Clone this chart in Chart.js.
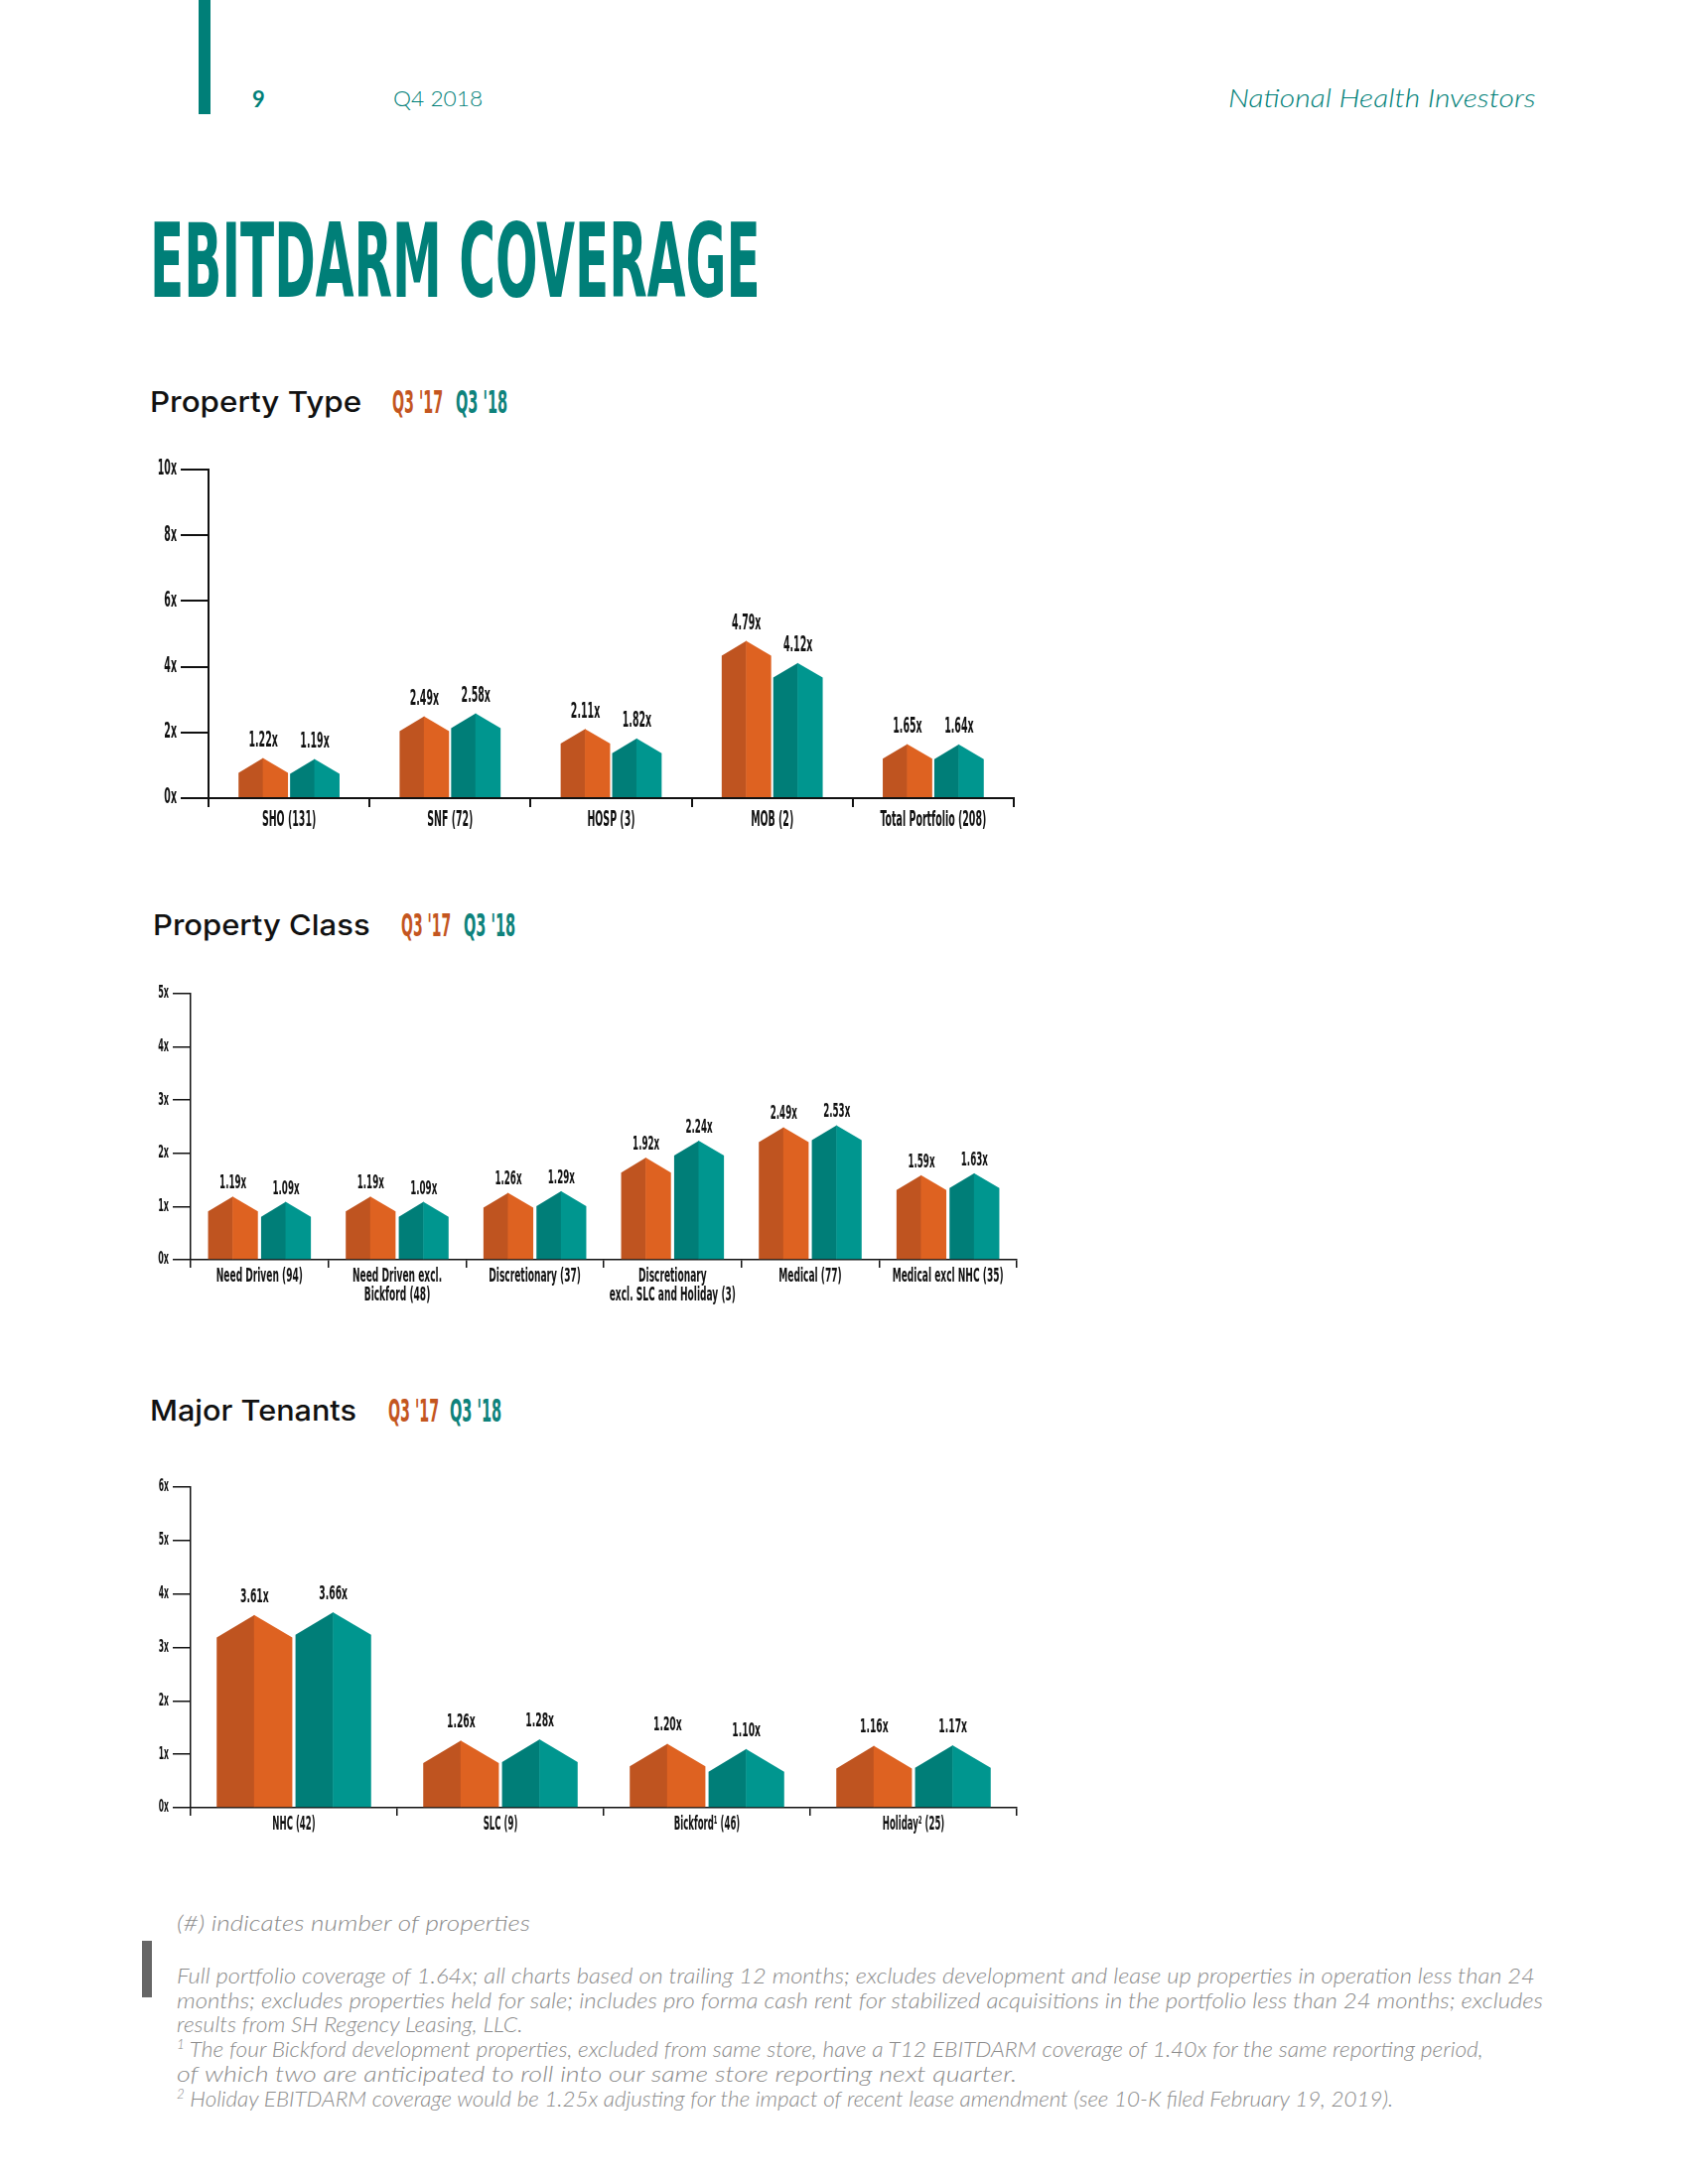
<!DOCTYPE html>
<html>
<head>
<meta charset="utf-8">
<script src="https://cdn.jsdelivr.net/npm/chart.js@4.4.1/dist/chart.umd.min.js"></script>
<style>
  body { margin: 0; width: 1700px; height: 2200px; background: #fff; position: relative; overflow: hidden; }
  .t { position: absolute; white-space: nowrap; transform-origin: left center; }
  .cond { font-family: 'DejaVu Sans Condensed', 'Liberation Sans Narrow', sans-serif; font-weight: bold; }
  .head { font-family: Inter, 'Noto Sans', sans-serif; font-weight: 500; font-size: 29px; color: #111; }
  .note { font-family: Lato, 'Open Sans', sans-serif; font-style: italic; font-weight: 300; font-size: 22px; color: #8a8a8a; }
  canvas { position: absolute; }
</style>
</head>
<body>
<div style="position:absolute;left:200px;top:0;width:12px;height:115px;background:#007f78"></div>
<div class="t" id="pg" style="font-family:Lato,sans-serif;font-weight:700;font-size:22px;color:#007f78">9</div>
<div class="t" id="qt" style="font-family:Lato,sans-serif;font-weight:300;font-size:22px;color:#007f78">Q4 2018</div>
<div class="t" id="co" style="font-family:Lato,sans-serif;font-style:italic;font-weight:300;font-size:25px;color:#007f78">National Health Investors</div>
<div class="t cond" id="title" style="font-size:103px;color:#007f78">EBITDARM COVERAGE</div>

<div class="t head" id="h1">Property Type</div>
<div class="t cond" id="l1a" style="font-size:32px;color:#c4561f">Q3 '17</div>
<div class="t cond" id="l1b" style="font-size:32px;color:#0e827b">Q3 '18</div>
<canvas id="typeChart" style="left:140px;top:440px"></canvas>

<div class="t head" id="h2">Property Class</div>
<div class="t cond" id="l2a" style="font-size:32px;color:#c4561f">Q3 '17</div>
<div class="t cond" id="l2b" style="font-size:32px;color:#0e827b">Q3 '18</div>
<canvas id="classChart" style="left:130px;top:970px"></canvas>

<div class="t head" id="h3">Major Tenants</div>
<div class="t cond" id="l3a" style="font-size:32px;color:#c4561f">Q3 '17</div>
<div class="t cond" id="l3b" style="font-size:32px;color:#0e827b">Q3 '18</div>
<canvas id="tenantChart" style="left:130px;top:1460px"></canvas>

<div style="position:absolute;left:143px;top:1955px;width:10px;height:57px;background:#666"></div>
<div class="t note" id="n0">(#) indicates number of properties</div>
<div class="t note" id="n1">Full portfolio coverage of 1.64x; all charts based on trailing 12 months; excludes development and lease up properties in operation less than 24</div>
<div class="t note" id="n2">months; excludes properties held for sale; includes pro forma cash rent for stabilized acquisitions in the portfolio less than 24 months; excludes</div>
<div class="t note" id="n3">results from SH Regency Leasing, LLC.</div>
<div class="t note" id="n4"><sup style="font-size:13px">1</sup> The four Bickford development properties, excluded from same store, have a T12 EBITDARM coverage of 1.40x for the same reporting period,</div>
<div class="t note" id="n5">of which two are anticipated to roll into our same store reporting next quarter.</div>
<div class="t note" id="n6"><sup style="font-size:13px">2</sup> Holiday EBITDARM coverage would be 1.25x adjusting for the impact of recent lease amendment (see 10-K filed February 19, 2019).</div>

<script>
// series names and colours
const seriesNames = ["Q3 '17", "Q3 '18"];

// Property Type
const typeLabels = ["SHO (131)", "SNF (72)", "HOSP (3)", "MOB (2)", "Total Portfolio (208)"];
const typeQ317 = [1.22, 2.49, 2.11, 4.79, 1.65];
const typeQ318 = [1.19, 2.58, 1.82, 4.12, 1.64];

// Property Class
const classLabels = [["Need Driven (94)"], ["Need Driven excl.", "Bickford (48)"], ["Discretionary (37)"],
    ["Discretionary", "excl. SLC and Holiday (3)"], ["Medical (77)"], ["Medical excl NHC (35)"]];
const classQ317 = [1.19, 1.19, 1.26, 1.92, 2.49, 1.59];
const classQ318 = [1.09, 1.09, 1.29, 2.24, 2.53, 1.63];

// Major Tenants
const tenantLabels = ["NHC (42)", "SLC (9)", "Bickford\u00b9 (46)", "Holiday\u00b2 (25)"];
const tenantQ317 = [3.61, 1.26, 1.20, 1.16];
const tenantQ318 = [3.66, 1.28, 1.10, 1.17];

const COND = "'DejaVu Sans Condensed', 'Liberation Sans Narrow', sans-serif";

function place(id, left, baseline, width, rightAlign) {
    const el = document.getElementById(id);
    el.style.left = "0px";
    el.style.top = "0px";
    const m = document.createElement("span");
    m.style.cssText = "display:inline-block;width:0;height:0;vertical-align:baseline";
    el.appendChild(m);
    const b = m.offsetTop;
    el.removeChild(m);
    let w = el.offsetWidth;
    if (width) {
        el.style.transform = "scaleX(" + (width / w) + ")";
        w = width;
    }
    el.style.left = (rightAlign ? left - w : left) + "px";
    el.style.top = (baseline - b) + "px";
}

function condText(ctx, text, x, y, size, sx, align, maxW) {
    ctx.save();
    ctx.font = "bold " + size + "px " + COND;
    ctx.fillStyle = "#111";
    ctx.textBaseline = "middle";
    ctx.textAlign = align;
    let s = sx;
    if (maxW) {
        const w = ctx.measureText(text).width;
        if (w * s > maxW) s = maxW / w;
    }
    ctx.translate(x, y);
    ctx.scale(s, 1);
    ctx.fillText(text, 0, 0);
    ctx.restore();
}

// house shaped bars, value labels and condensed tick labels
const houseBars = {
    id: "houseBars",
    afterDatasetsDraw(chart, args, o) {
        const ctx = chart.ctx;
        chart.data.datasets.forEach((ds, di) => {
            chart.getDatasetMeta(di).data.forEach((bar, i) => {
                const p = bar.getProps(["x", "y", "base", "width"], true);
                const h = p.width / 2;
                const sh = Math.min(p.y + h * 0.6, p.base);
                ctx.fillStyle = ds.dark;
                ctx.beginPath();
                ctx.moveTo(p.x - h, p.base);
                ctx.lineTo(p.x - h, sh);
                ctx.lineTo(p.x, p.y);
                ctx.lineTo(p.x, p.base);
                ctx.closePath();
                ctx.fill();
                ctx.fillStyle = ds.light;
                ctx.beginPath();
                ctx.moveTo(p.x - 0.5, p.base);
                ctx.lineTo(p.x - 0.5, p.y);
                ctx.lineTo(p.x + h, sh);
                ctx.lineTo(p.x + h, p.base);
                ctx.closePath();
                ctx.fill();
                condText(ctx, ds.data[i].toFixed(2) + "x", p.x, p.y - o.valueGap, o.valueSize, o.vsx, "center");
            });
        });
    },
    afterDraw(chart, args, o) {
        const ctx = chart.ctx;
        const xs = chart.scales.x, ys = chart.scales.y;
        ys.ticks.forEach((t, i) => {
            condText(ctx, t.value + "x", ys.right - o.yTick - 4, ys.getPixelForTick(i), o.ySize, o.sx, "right");
        });
        const catW = xs.width / chart.data.labels.length;
        chart.data.labels.forEach((l, i) => {
            const lines = Array.isArray(l) ? l : [l];
            lines.forEach((s, j) => {
                condText(ctx, s, xs.getPixelForTick(i), xs.top + o.xFirst + j * o.lineGap,
                    o.xSize, o.sx, "center", catW - 10);
            });
        });
    }
};

function makeChart(id, w, h, labels, a, b, c) {
    const el = document.getElementById(id);
    el.width = w;
    el.height = h;
    return new Chart(el.getContext("2d"), {
        type: "bar",
        data: {
            labels: labels,
            datasets: [
                { label: seriesNames[0], data: a, backgroundColor: "rgba(0,0,0,0)", dark: "#bf5420", light: "#de6221",
                  categoryPercentage: c.cat, barPercentage: c.bar },
                { label: seriesNames[1], data: b, backgroundColor: "rgba(0,0,0,0)", dark: "#007e78", light: "#00968f",
                  categoryPercentage: c.cat, barPercentage: c.bar }
            ]
        },
        options: {
            responsive: false,
            animation: false,
            layout: { padding: { top: c.top, right: c.right, left: 0, bottom: 0 } },
            plugins: {
                legend: { display: false },
                tooltip: { enabled: false },
                houseBars: c.txt
            },
            scales: {
                x: {
                    afterFit: s => { s.height = c.xH; },
                    ticks: { display: false },
                    grid: { offset: true, drawOnChartArea: false, tickLength: c.xTick, color: "#111", lineWidth: c.lw },
                    border: { color: "#111", width: c.lw }
                },
                y: {
                    min: 0,
                    max: c.max,
                    afterFit: s => { s.width = c.yW; },
                    ticks: { display: false, stepSize: c.step },
                    grid: { drawOnChartArea: false, tickLength: c.txt.yTick, color: "#111", lineWidth: c.lw },
                    border: { color: "#111", width: c.lw }
                }
            }
        },
        plugins: [houseBars]
    });
}

makeChart("typeChart", 900, 430, typeLabels, typeQ317, typeQ318, {
    cat: 0.64, bar: 0.96, top: 33, right: 19, xH: 66, yW: 70, max: 10, step: 2, xTick: 9, lw: 2,
    txt: { sx: 0.5, vsx: 0.5, valueSize: 21, valueGap: 17, ySize: 21, yTick: 28, xSize: 21, xFirst: 23, lineGap: 18 }
});
makeChart("classChart", 910, 370, classLabels, classQ317, classQ318, {
    cat: 0.77, bar: 0.94, top: 31, right: 16, xH: 71, yW: 62, max: 5, step: 1, xTick: 8, lw: 1.5,
    txt: { sx: 0.53, vsx: 0.51, valueSize: 19, valueGap: 13, ySize: 17, yTick: 18, xSize: 19, xFirst: 17, lineGap: 19 }
});
makeChart("tenantChart", 910, 420, tenantLabels, tenantQ317, tenantQ318, {
    cat: 0.763, bar: 0.96, top: 38, right: 16, xH: 59, yW: 62, max: 6, step: 1, xTick: 8, lw: 1.5,
    txt: { sx: 0.5, vsx: 0.54, valueSize: 19, valueGap: 18, ySize: 17, yTick: 18, xSize: 19, xFirst: 17, lineGap: 19 }
});

// page text
place("pg", 254, 108, 0);
place("qt", 396, 107, 90);
place("co", 1547, 108, 310, true);
place("title", 151, 299, 615);
place("h1", 151, 415, 213);
place("l1a", 395, 416, 51);
place("l1b", 459, 416, 52);
place("h2", 154, 942, 219);
place("l2a", 404, 943, 50);
place("l2b", 467, 943, 52);
place("h3", 151, 1431, 208);
place("l3a", 391, 1432, 51);
place("l3b", 453, 1432, 52);
place("n0", 178, 1945, 356);
place("n1", 178, 1998, 1368);
place("n2", 178, 2023, 1376);
place("n3", 178, 2047, 348);
place("n4", 178, 2072, 1316);
place("n5", 178, 2097, 846);
place("n6", 178, 2122, 1225);
</script>
</body>
</html>
